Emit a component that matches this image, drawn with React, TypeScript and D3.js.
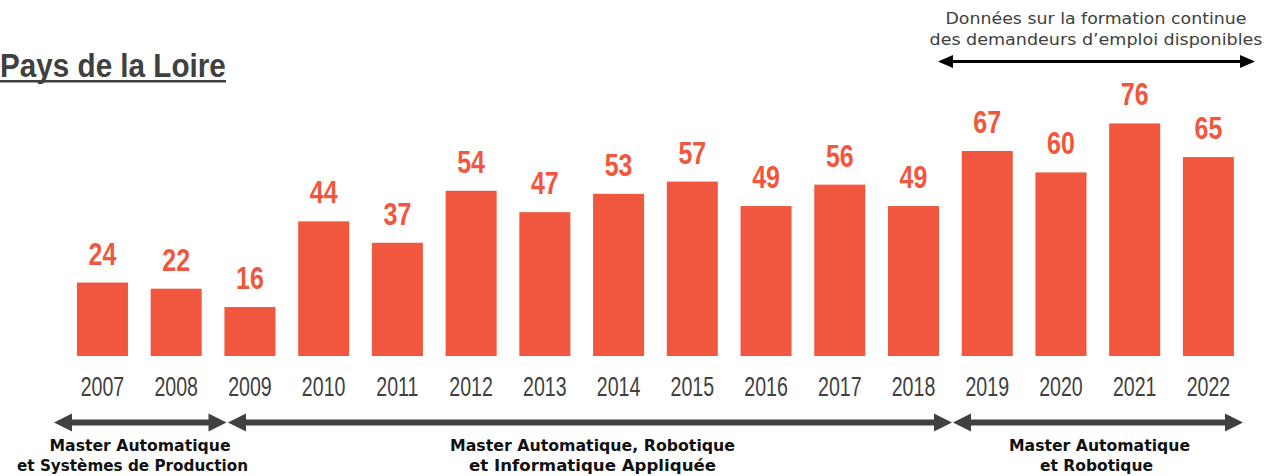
import React from "react";
import * as d3 from "d3";

const years = ["2007","2008","2009","2010","2011","2012","2013","2014","2015","2016","2017","2018","2019","2020","2021","2022"];
const values = [24, 22, 16, 44, 37, 54, 47, 53, 57, 49, 56, 49, 67, 60, 76, 65];
const title = "Pays de la Loire";
const noteLines = ["Données sur la formation continue", "des demandeurs d’emploi disponibles"];
const periods = [
  { lines: ["Master Automatique", "et Systèmes de Production"] },
  { lines: ["Master Automatique, Robotique", "et Informatique Appliquée"] },
  { lines: ["Master Automatique", "et Robotique"] },
];

const W = 1279, H = 476;
const BAR = "#F0573E";
const DARK = "#404040";

// layout of annotation arrows and label boxes
const arrowBounds = [[54, 226.5], [228, 952], [953, 1243]];
const labelCenters = [[140, 132.5], [592.5, 592.5], [1099.5, 1096.5]];
const labelWidths = [[181, 231], [285, 247], [181, 113]];

function Arrow({ x1, x2, y, sw, hl, hh, color }: any) {
  return (
    <g fill={color}>
      <rect x={x1 + hl - 1} y={y - sw / 2} width={x2 - x1 - 2 * hl + 2} height={sw} />
      <path d={`M${x1},${y} L${x1 + hl},${y - hh / 2} L${x1 + hl},${y + hh / 2} Z`} />
      <path d={`M${x2},${y} L${x2 - hl},${y - hh / 2} L${x2 - hl},${y + hh / 2} Z`} />
    </g>
  );
}

export default function App() {
  const x = d3.scaleBand<string>().domain(years).range([65.6, 1245.3]).paddingInner(0.308).paddingOuter(0.154);
  const y = d3.scaleLinear().domain([0, 80]).range([356, 111.2]);
  const bw = x.bandwidth();

  return (
    <svg width={W} height={H} style={{ position: "absolute", left: 0, top: 0, background: "#fff" }}>
      {/* title */}
      <g transform="translate(0,77) scale(0.886,1)">
        <text x={0} y={0} fontFamily="Liberation Sans, Arial, sans-serif" fontWeight="bold" fontSize={33.5} fill={DARK}>{title}</text>
      </g>
      <rect x={0} y={80} width={226} height={2.5} fill={DARK} />

      {/* note */}
      {noteLines.map((t, i) => (
        <text key={i} x={1096} y={24 + i * 20.5} textAnchor="middle" fontFamily="DejaVu Sans, sans-serif" fontSize={15}
          fill={DARK} textLength={i === 0 ? 301 : 333} lengthAdjust="spacingAndGlyphs">{t}</text>
      ))}
      <Arrow x1={938} x2={1255} y={61.5} sw={3} hl={15} hh={13} color="#000" />

      {/* bars */}
      {values.map((v, i) => {
        const xx = x(years[i]) as number;
        return (
          <g key={years[i]}>
            <rect x={xx} y={y(v)} width={bw} height={y(0) - y(v)} fill={BAR} />
            <g transform={`translate(${xx + bw / 2},${y(v) - 18}) scale(0.82,1)`}>
              <text x={0} y={0} textAnchor="middle" fontFamily="Liberation Sans, Arial, sans-serif" fontWeight="bold" fontSize={30.5} fill={BAR}>{v}</text>
            </g>
            <g transform={`translate(${xx + bw / 2},${395.5}) scale(0.7,1)`}>
              <text x={0} y={0} textAnchor="middle" fontFamily="Liberation Sans, Arial, sans-serif" fontSize={28} fill={DARK}>{years[i]}</text>
            </g>
          </g>
        );
      })}

      {/* periods */}
      {periods.map((p, i) => (
        <g key={i}>
          <Arrow x1={arrowBounds[i][0]} x2={arrowBounds[i][1]} y={422.5} sw={6} hl={18} hh={18} color={DARK} />
          {p.lines.map((t, j) => (
            <text key={j} x={labelCenters[i][j]} y={451 + j * 20} textAnchor="middle" fontFamily="DejaVu Sans, sans-serif" fontWeight="bold"
              fontSize={15} fill="#111" textLength={labelWidths[i][j]} lengthAdjust="spacingAndGlyphs">{t}</text>
          ))}
        </g>
      ))}
    </svg>
  );
}
